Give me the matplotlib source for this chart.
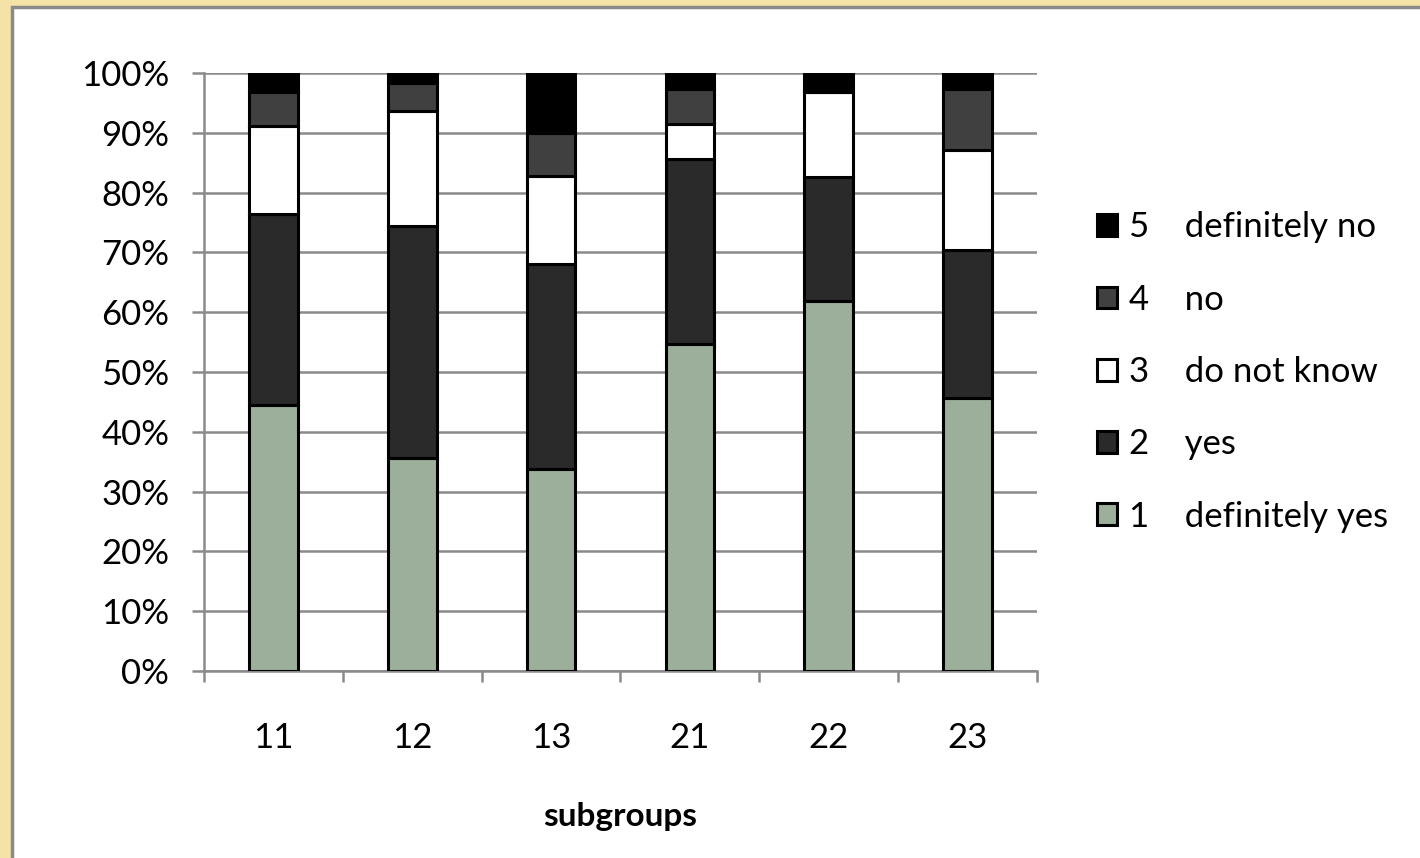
import numpy as np
import matplotlib.pyplot as plt
from matplotlib.patches import Rectangle
from matplotlib.ticker import FixedLocator, PercentFormatter

plt.rcParams['font.family'] = ['Lato', 'DejaVu Sans']

# answers per subgroup, in percent
subgroups = ["11", "12", "13", "21", "22", "23"]
definitely_yes = [44.5, 35.6, 33.7, 54.6, 61.8, 45.6]
yes = [31.9, 38.8, 34.3, 31.1, 20.8, 24.8]
do_not_know = [14.7, 19.2, 14.7, 5.8, 14.3, 16.8]
no = [5.7, 4.8, 7.3, 5.9, 0.0, 10.2]
definitely_no = [3.2, 1.6, 10.0, 2.6, 3.1, 2.6]

series = [
    ("1    definitely yes", definitely_yes, "#9baf9a"),
    ("2    yes", yes, "#2a2a2a"),
    ("3    do not know", do_not_know, "#ffffff"),
    ("4    no", no, "#404040"),
    ("5    definitely no", definitely_no, "#000000"),
]

fig = plt.figure(figsize=(14.2, 8.58), dpi=100)
fig.patch.set_facecolor("#f4e2a6")
# white slide panel with grey frame
fig.patches.append(Rectangle((12 / 1420, -0.05), 1.2, 1 - 7 / 858 + 0.05,
                             transform=fig.transFigure, facecolor="white",
                             edgecolor="#8a8a8a", linewidth=2.5, zorder=-10))

ax = fig.add_axes([204 / 1420, 1 - 671 / 858, 833 / 1420, 598 / 858])
ax.set_facecolor("none")

x = np.arange(len(subgroups))
bottom = np.zeros(len(subgroups))
handles = []
for label, vals, color in series:
    b = ax.bar(x, vals, 0.35, bottom=bottom, color=color, edgecolor="black",
               linewidth=2.2, label=label, zorder=3)
    handles.append(b)
    bottom += np.array(vals)

ax.set_xlim(-0.5, len(subgroups) - 0.5)
ax.set_ylim(0, 100)
ax.yaxis.set_major_locator(FixedLocator(np.arange(0, 101, 10)))
ax.yaxis.set_major_formatter(PercentFormatter(decimals=0))
ax.grid(axis="y", color="#8a8a8a", linewidth=1.8, zorder=0)

ax.set_xticks(x)
ax.set_xticklabels(subgroups)
ax.set_xticks(np.arange(-0.5, len(subgroups)), minor=True)
ax.tick_params(axis="x", which="major", length=0, pad=37, labelsize=25)
ax.tick_params(axis="x", which="minor", length=8, width=1.8, color="#8a8a8a")
ax.tick_params(axis="y", length=9, width=1.8, color="#8a8a8a", pad=16, labelsize=25)

for side in ["top", "right"]:
    ax.spines[side].set_visible(False)
for side in ["left", "bottom"]:
    ax.spines[side].set_color("#8a8a8a")
    ax.spines[side].set_linewidth(1.8)

ax.set_xlabel("subgroups", fontsize=24, fontweight="bold", labelpad=34)

ax.legend(handles[::-1], [s[0] for s in series][::-1], loc="center left",
          bbox_to_anchor=(1097 / 1420, 1 - 372 / 858), bbox_transform=fig.transFigure,
          frameon=False, fontsize=25, handlelength=0.58, handleheight=0.58,
          handletextpad=0.35, labelspacing=1.16, borderpad=0, borderaxespad=0)

fig.savefig("out.png", dpi=100, facecolor=fig.get_facecolor())
